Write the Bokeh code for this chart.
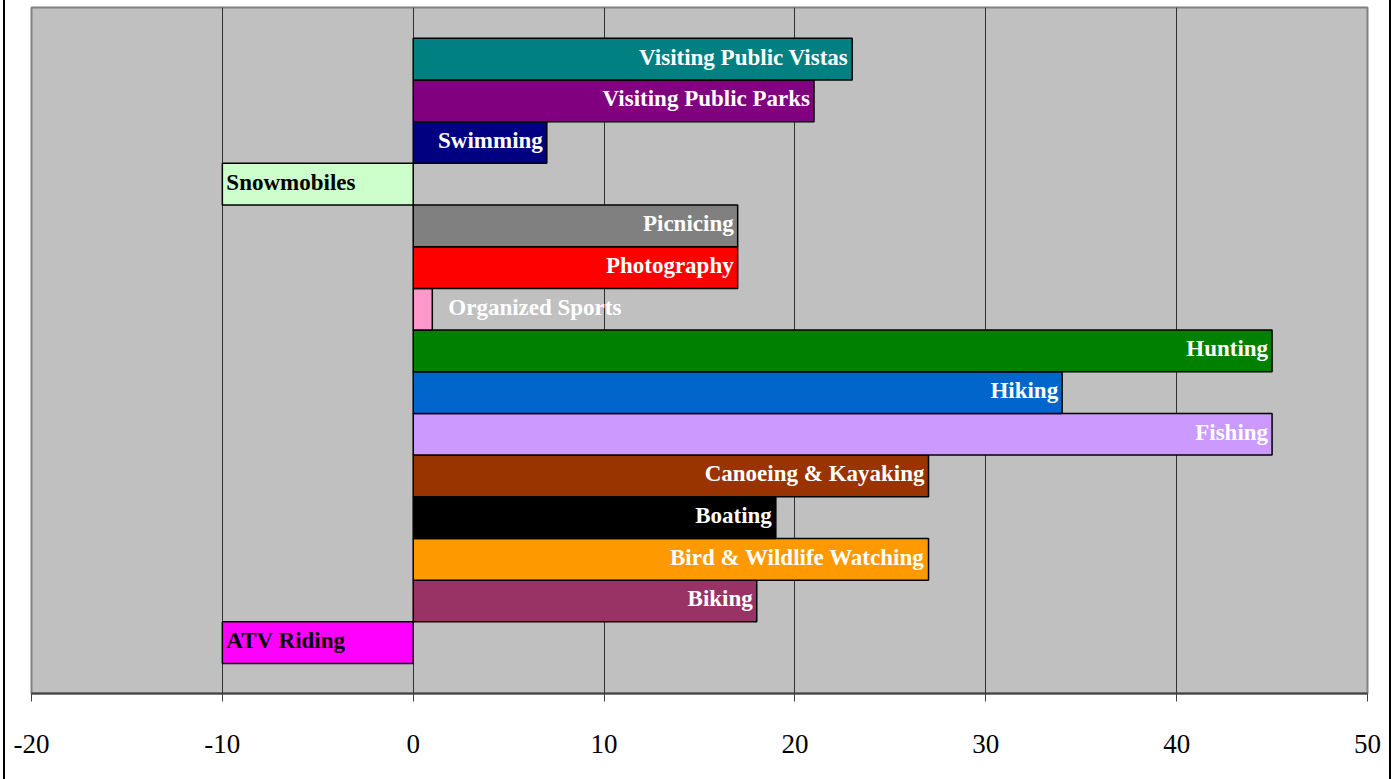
from bokeh.plotting import figure
from bokeh.models import ColumnDataSource, FixedTicker, Range1d
from bokeh.core.properties import value
from bokeh.embed import file_html
from bokeh.resources import INLINE

# Data (bottom to top)
activities = ["ATV Riding", "Biking", "Bird & Wildlife Watching", "Boating",
              "Canoeing & Kayaking", "Fishing", "Hiking", "Hunting",
              "Organized Sports", "Photography", "Picnicing", "Snowmobiles",
              "Swimming", "Visiting Public Parks", "Visiting Public Vistas"]
values = [-10, 18, 27, 19, 27, 45, 34, 45, 1, 17, 17, -10, 7, 21, 23]
bar_colors = ["#FF00FF", "#993366", "#FF9900", "#000000", "#993300",
              "#CC99FF", "#0066CC", "#008000", "#FF99CC", "#FF0000",
              "#808080", "#CCFFCC", "#000080", "#800080", "#008080"]
label_colors = ["#000000", "#FFFFFF", "#FFFFFF", "#FFFFFF", "#FFFFFF",
                "#FFFFFF", "#FFFFFF", "#FFFFFF", "#FFFFFF", "#FFFFFF",
                "#FFFFFF", "#000000", "#FFFFFF", "#FFFFFF", "#FFFFFF"]
x_ticks = [-20, -10, 0, 10, 20, 30, 40, 50]
x_tick_labels = ["-20", "-10", "0", "10", "20", "30", "40", "50"]

pos = list(range(len(activities)))
align = []
offs = []
for v in values:
    if v < 0:
        align.append("left"); offs.append(4)
    elif v < 3:
        align.append("left"); offs.append(16)
    else:
        align.append("right"); offs.append(-4)

src = ColumnDataSource(dict(y=pos, v=values, c=bar_colors, tc=label_colors,
                            name=activities, al=align, off=offs))

p = figure(frame_width=1336, frame_height=686, output_backend="svg",
           toolbar_location=None,
           x_range=Range1d(-20, 50), y_range=Range1d(-1.22, 15.24),
           min_border_left=26, min_border_right=22, min_border_top=7,
           min_border_bottom=86)
p.styles = {"border-left": "2px solid black", "border-right": "2px solid black",
            "margin-left": "3px"}
p.background_fill_color = "#C0C0C0"
p.border_fill_color = "white"
p.outline_line_color = "#808080"
p.outline_line_width = 2

p.hbar(y="y", left=0, right="v", height=1.0, fill_color="c",
       line_color="black", line_width=1.5, source=src)

p.text(x="v", y="y", text="name", text_color="tc", text_align="al",
       x_offset="off", y_offset=-2, text_baseline="middle",
       text_font=value("Liberation Serif"), text_font_style="bold",
       text_font_size="23px", source=src)

p.yaxis.visible = False
p.ygrid.visible = False
p.xgrid.grid_line_color = "#303030"
p.xgrid.grid_line_width = 1
p.xaxis.ticker = FixedTicker(ticks=x_ticks)
p.xaxis.major_label_overrides = {t: s for t, s in zip(x_ticks, x_tick_labels)}
p.xaxis.axis_line_color = "#404040"
p.xaxis.axis_line_width = 2
p.xaxis.major_tick_line_color = "#404040"
p.xaxis.major_tick_out = 8
p.xaxis.major_tick_in = 0
p.xaxis.minor_tick_line_color = None
p.xaxis.major_label_text_font = "Liberation Serif"
p.xaxis.major_label_text_font_size = "27px"
p.xaxis.major_label_text_color = "black"
p.xaxis.major_label_standoff = 33

open("out.html", "w").write(file_html(p, INLINE))
